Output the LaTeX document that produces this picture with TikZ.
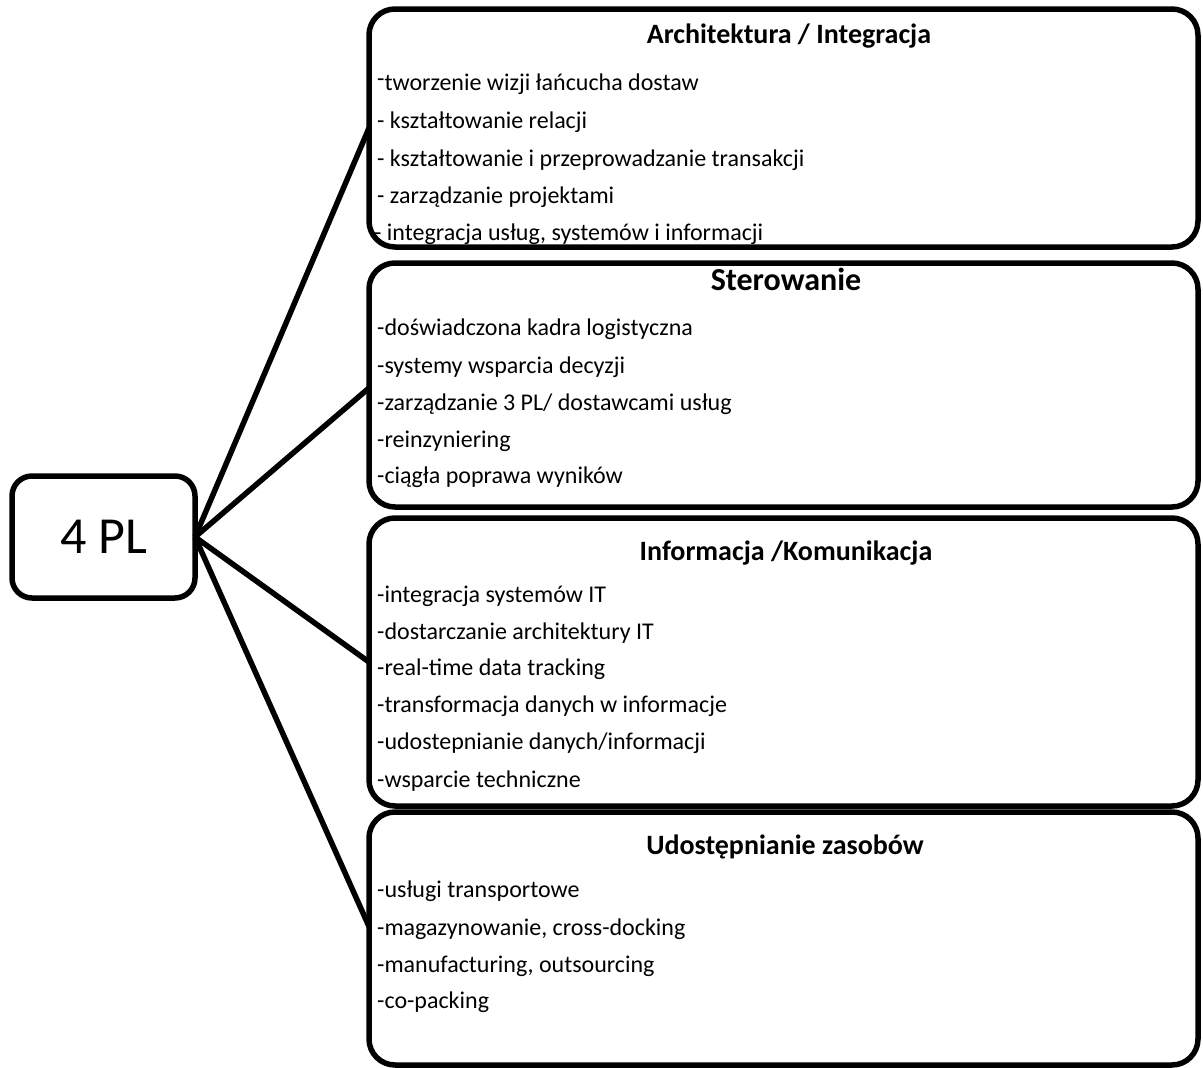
\documentclass[tikz,border=0pt]{standalone}
\usepackage{fontspec}
\setmainfont{Carlito}
\begin{document}
\begin{tikzpicture}[x=1pt,y=-1pt,
  panel/.style={draw=black, line width=5.5pt, rounded corners=26pt, inner sep=0pt, outer sep=0pt},
  link/.style={draw=black, line width=5.5pt},
  item/.style={anchor=base west, inner sep=0pt, font=\fontsize{24}{28}\selectfont},
  head/.style={anchor=base, inner sep=0pt, font=\fontsize{28}{32}\selectfont\bfseries},
  bighead/.style={anchor=base, inner sep=0pt, font=\fontsize{32}{36}\selectfont\bfseries}]
\useasboundingbox (0,0) rectangle (1203,1068);
\fill[white] (0,0) rectangle (1203,1068);

% central block
\node[panel, rounded corners=20pt, minimum width=183pt, minimum height=122pt,
      font=\fontsize{52}{60}\selectfont] (pl) at (103.5,537) {4 PL};

% four topic panels
\node[panel, minimum width=829pt, minimum height=238pt] (b1) at (783.5,128) {};
\node[panel, minimum width=829pt, minimum height=244pt] (b2) at (783.5,385) {};
\node[panel, minimum width=829pt, minimum height=288pt] (b3) at (783.5,662) {};
\node[panel, minimum width=829pt, minimum height=253pt] (b4) at (783.5,938.5) {};

% connectors
\coordinate (e1) at (b1.west);
\coordinate (e2) at ([yshift=-3pt]b2.west);
\coordinate (e3) at (b3.west);
\coordinate (e4) at ([yshift=12pt]b4.west);
\draw[link] (pl.east) -- (e1);
\draw[link] (pl.east) -- (e2);
\draw[link] (pl.east) -- (e3);
\draw[link] (pl.east) -- (e4);

% Architektura / Integracja
\node[head] (t1) at (789,43) {Architektura / Integracja};
\node[item] (a1) at (377,90) {\raisebox{0.3ex}{-}tworzenie wizji łańcucha dostaw};
\node[item] (a2) at (377,128) {- kształtowanie relacji};
\node[item] (a3) at (377,166) {- kształtowanie i przeprowadzanie transakcji};
\node[item] (a4) at (377,203) {- zarządzanie projektami};
\node[item] (a5) at (374,240) {- integracja usług, systemów i informacji};

% Sterowanie
\node[bighead] (t2) at (786,290) {Sterowanie};
\node[item] (s1) at (377,335) {-doświadczona kadra logistyczna};
\node[item] (s2) at (377,373) {-systemy wsparcia decyzji};
\node[item] (s3) at (377,410) {-zarządzanie 3 PL/ dostawcami usług};
\node[item] (s4) at (377,447) {-reinzyniering};
\node[item] (s5) at (377,483) {-ciągła poprawa wyników};

% Informacja / Komunikacja
\node[head] (t3) at (786,560) {Informacja /Komunikacja};
\node[item] (i1) at (377,602) {-integracja systemów IT};
\node[item] (i2) at (377,639) {-dostarczanie architektury IT};
\node[item] (i3) at (377,675) {-real-time data tracking};
\node[item] (i4) at (377,712) {-transformacja danych w informacje};
\node[item] (i5) at (377,749) {-udostepnianie danych/informacji};
\node[item] (i6) at (377,787) {-wsparcie techniczne};

% Udostępnianie zasobów
\node[head] (t4) at (785,854) {Udostępnianie zasobów};
\node[item] (u1) at (377,897) {-usługi transportowe};
\node[item] (u2) at (377,935) {-magazynowanie, cross-docking};
\node[item] (u3) at (377,972) {-manufacturing, outsourcing};
\node[item] (u4) at (377,1008) {-co-packing};
\end{tikzpicture}
\end{document}
